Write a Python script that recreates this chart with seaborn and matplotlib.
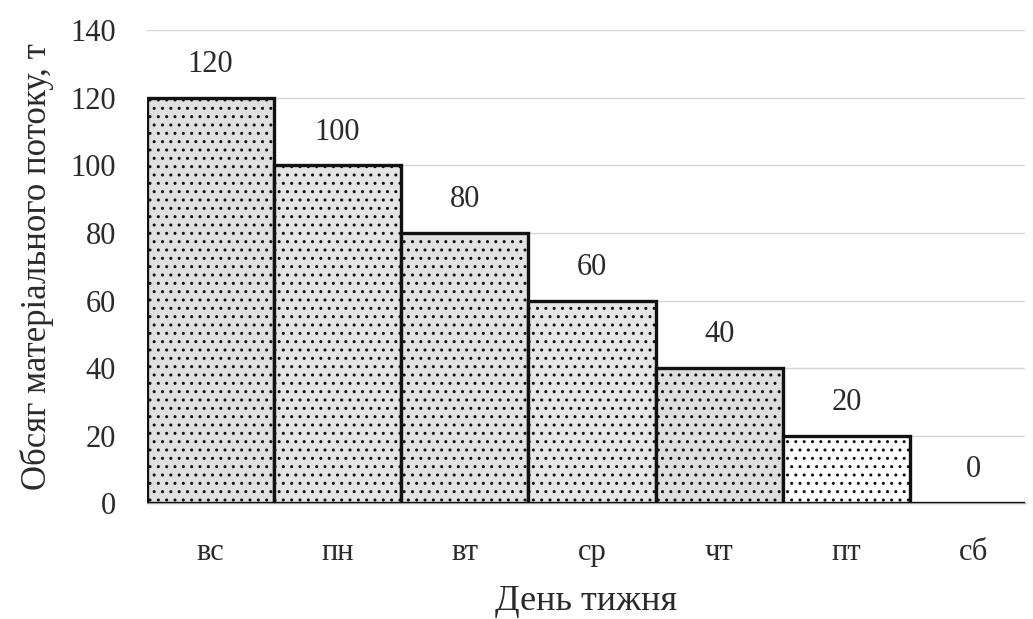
import matplotlib
matplotlib.use("Agg")
import matplotlib.pyplot as plt
import seaborn as sns
import pandas as pd

days = ["вс", "пн", "вт", "ср", "чт", "пт", "сб"]
flow = [120, 100, 80, 60, 40, 20, 0]
y_ticks = [0, 20, 40, 60, 80, 100, 120, 140]
fills = ["#e0e0e0", "#e4e4e4", "#e2e2e2", "#e6e6e6", "#dedede", "#ffffff", "#ffffff"]

sns.set_theme(style="white")
plt.rcParams["font.family"] = ["Liberation Serif", "DejaVu Serif"]
plt.rcParams["hatch.color"] = "#3a3a3a"
plt.rcParams["hatch.linewidth"] = 1.0

df = pd.DataFrame({"day": days, "flow": flow})

fig = plt.figure(figsize=(10.33, 6.19), dpi=100)
ax = fig.add_axes([0.142, 0.187, 0.850, 0.764])

sns.barplot(data=df, x="day", y="flow", order=days, width=1.0,
            color="#e4e4e4", edgecolor="#111111", linewidth=2.4,
            ax=ax, zorder=3)

for patch, fc in zip(ax.patches, fills):
    patch.set_facecolor(fc)
    patch.set_hatch("..")
    patch.set_zorder(3)

for i, v in enumerate(flow):
    ax.annotate(f"{v}", xy=(i, v), xytext=(0, 24), textcoords="offset points",
                ha="center", va="center", fontsize=22, color="#2a2a2a")

ax.set_ylim(0, 140)
ax.set_xlim(-0.5, 6.4)
ax.set_yticks(y_ticks)
ax.yaxis.grid(True, color="#d4d4d4", linewidth=1.0, zorder=0)
ax.set_axisbelow(True)

for side in ["top", "right", "left"]:
    ax.spines[side].set_visible(False)
ax.spines["bottom"].set_color("#9a9a9a")
ax.spines["bottom"].set_linewidth(1.0)

ax.tick_params(axis="both", length=0, labelsize=22, labelcolor="#2a2a2a")
ax.tick_params(axis="y", pad=22)
ax.tick_params(axis="x", pad=25)

ax.set_xlabel("День тижня", fontsize=26, color="#2a2a2a", labelpad=13)
ax.set_ylabel("Обсяг матеріального потоку, т", fontsize=25, color="#2a2a2a", labelpad=12)

fig.savefig("out.png", dpi=100, facecolor="white")
